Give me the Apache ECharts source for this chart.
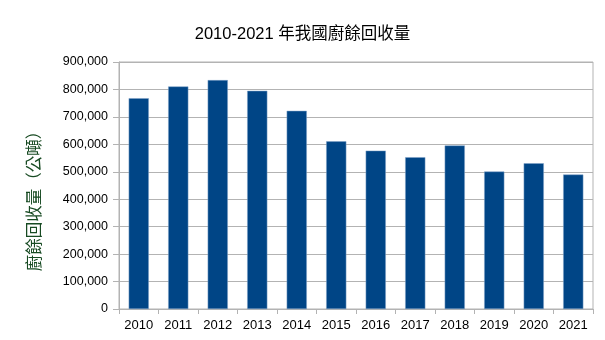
<!DOCTYPE html>
<html>
<head>
<meta charset="utf-8">
<script src="https://cdn.jsdelivr.net/npm/echarts@6/dist/echarts.min.js"></script>
<style>
  html, body { margin: 0; padding: 0; background: #fff; }
  #chart { width: 605px; height: 340px; }
</style>
</head>
<body>
<div id="chart"></div>
<script>
// Annual food-waste recovery (metric tons)
const years = ['2010', '2011', '2012', '2013', '2014', '2015', '2016', '2017', '2018', '2019', '2020', '2021'];
const recovered = [768000, 811000, 834000, 795000, 722000, 611000, 577000, 553000, 596000, 501000, 531000, 490000];
const titleText = '2010-2021 年我國廚餘回收量';
const yName = '廚餘回收量（公噸）';

const font = '"Liberation Sans", "Noto Sans CJK TC", sans-serif';
const chart = echarts.init(document.getElementById('chart'));
chart.setOption({
  animation: false,
  title: {
    text: titleText,
    left: 'center',
    top: 21,
    textStyle: { fontFamily: font, fontSize: 16.5, fontWeight: 'normal', color: '#000' }
  },
  // vertical axis caption, placed beside the value labels
  graphic: [{
    type: 'text',
    x: 35,
    y: 197,
    rotation: Math.PI / 2,
    style: {
      text: yName,
      fill: '#174a22',
      font: '16.5px ' + font,
      align: 'center',
      verticalAlign: 'middle'
    }
  }],
  grid: {
    left: 119, right: 12, top: 62, bottom: 31,
    show: true, borderColor: '#b3b3b3', borderWidth: 1
  },
  xAxis: {
    type: 'category',
    data: years,
    axisLine: { lineStyle: { color: '#b3b3b3' } },
    axisTick: { show: true, alignWithLabel: false, length: 5, lineStyle: { color: '#b3b3b3' } },
    axisLabel: { color: '#000', fontFamily: font, fontSize: 13, margin: 10 }
  },
  yAxis: {
    type: 'value',
    min: 0, max: 900000, interval: 100000,
    axisLine: { show: true, lineStyle: { color: '#b3b3b3' } },
    axisTick: { show: true, length: 6, lineStyle: { color: '#b3b3b3' } },
    splitLine: { lineStyle: { color: '#b3b3b3' } },
    axisLabel: {
      color: '#000', fontFamily: font, fontSize: 12.5, margin: 11,
      formatter: v => v.toLocaleString('en-US')
    }
  },
  series: [{
    type: 'bar',
    data: recovered,
    barWidth: '51%',
    itemStyle: { color: '#004586', borderColor: '#7fa3c9', borderWidth: 0.5 }
  }]
});
</script>
</body>
</html>
